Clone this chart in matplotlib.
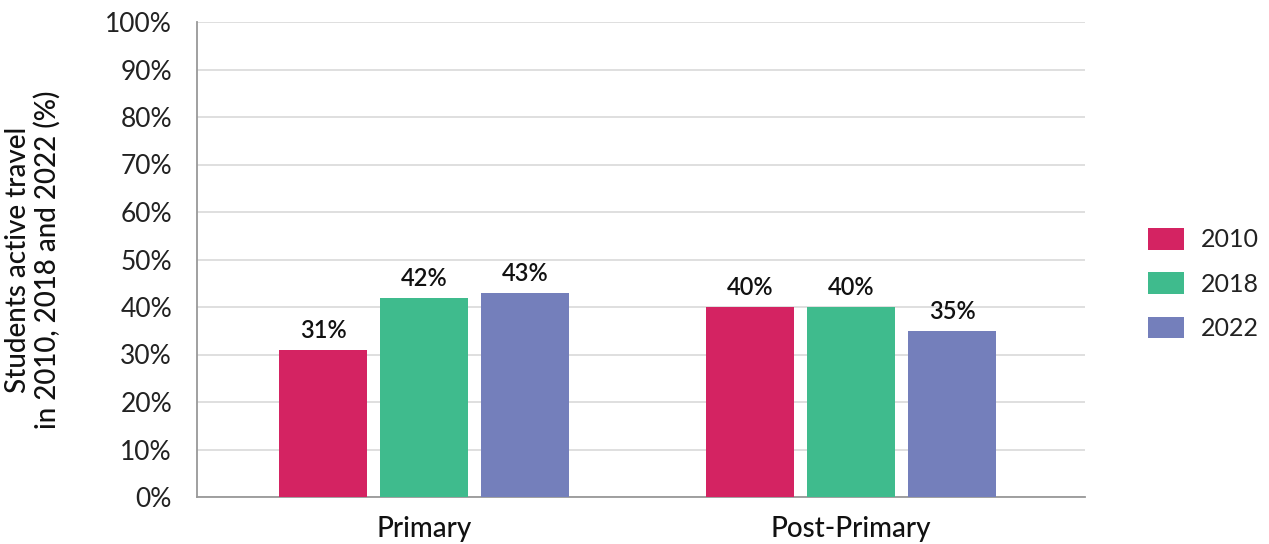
import numpy as np
import matplotlib as mpl
mpl.use('Agg')
import matplotlib.pyplot as plt

plt.rcParams['font.family'] = ['Lato', 'DejaVu Sans']

categories = ["Primary", "Post-Primary"]
years = ["2010", "2018", "2022"]
values = {
    "2010": [31, 40],
    "2018": [42, 40],
    "2022": [43, 35],
}
colors = ["#D42362", "#3FBB8D", "#747FBB"]

fig = plt.figure(figsize=(12.69, 5.44), dpi=100)
ax = fig.add_axes([197/1269, 1 - 497/544, 888/1269, 475/544])

x = np.arange(len(categories))
width = 0.206
step = 0.2365
bars = []
for i, yr in enumerate(years):
	b = ax.bar(x + (i - 1)*step, values[yr], width, color=colors[i], label=yr, zorder=3)
	bars.append(b)
	for rect, v in zip(b, values[yr]):
		ax.text(rect.get_x() + rect.get_width()/2, v + 1.6, "{0}%".format(v),
				ha="center", va="bottom", fontsize=17, fontweight="semibold", color="#111111")

ax.set_xlim(-0.532, 1.548)
ax.set_ylim(0, 100)
ax.set_yticks(range(0, 101, 10))
ax.set_yticklabels(["{0}%".format(t) for t in range(0, 101, 10)], fontsize=19, color="#222222")
ax.set_xticks(x)
ax.set_xticklabels(categories, fontsize=20, fontweight="medium", color="#111111")
ax.tick_params(axis="x", length=0, pad=14)
ax.tick_params(axis="y", length=0, pad=18)
ax.grid(axis="y", color="#D9D9D9", linewidth=1.2, zorder=0)
for s in ["top", "right"]:
	ax.spines[s].set_visible(False)
for s in ["left", "bottom"]:
	ax.spines[s].set_color("#999999")
	ax.spines[s].set_linewidth(1.3)

ax.set_ylabel("Students active travel\nin 2010, 2018 and 2022 (%)", fontsize=20, fontweight="medium",
			  color="#111111", linespacing=1.1)
ax.yaxis.set_label_coords(-0.154, 0.5)

leg = fig.legend(handles=bars, labels=years, loc="center left", bbox_to_anchor=(1140/1269, 1 - 284/544),
				 frameon=False, fontsize=18, handlelength=1.45, handleheight=0.95, labelspacing=0.84,
				 handletextpad=0.7, borderaxespad=0, borderpad=0.3)
for t in leg.get_texts():
	t.set_color("#222222")

plt.savefig("out.png", dpi=100)
